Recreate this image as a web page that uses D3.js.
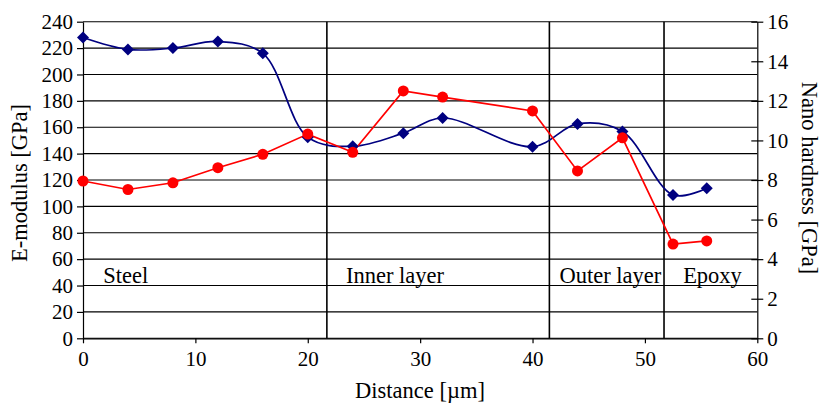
<!DOCTYPE html>
<html><head><meta charset="utf-8">
<script src="https://cdn.jsdelivr.net/npm/d3@7"></script>
<style>body{margin:0;background:#fff}svg{display:block}text{font-family:"Liberation Serif","Times New Roman",serif;fill:#000}</style>
</head><body>
<script>
const distance = [0, 4, 8, 12, 16, 20, 24, 28.5, 32, 40, 44, 48, 52.5, 55.5];
const eModulus = [228, 219, 220, 225, 216, 152.5, 145.5, 155.5, 167, 145.3, 162.5, 156.8, 108.6, 113.8];
const hardness = [7.95, 7.52, 7.86, 8.62, 9.3, 10.32, 9.4, 12.5, 12.19, 11.49, 8.46, 10.13, 4.76, 4.92];
const leftTicks = [0,20,40,60,80,100,120,140,160,180,200,220,240];
const rightTicks = [0,2,4,6,8,10,12,14,16];
const xTicks = [0,10,20,30,40,50,60];
const boundaries = [21.7, 41.5, 51.7];
const regions = [{label:"Steel", x:1.8},{label:"Inner layer", x:23.4},{label:"Outer layer", x:42.4},{label:"Epoxy", x:53.4}];

const W = 821, H = 404;
const svg = d3.select("body").append("svg").attr("width", W).attr("height", H);
const x = d3.scaleLinear().domain([0,60]).range([83, 757.3]);
const yL = d3.scaleLinear().domain([0,240]).range([338.3, 21.7]);
const yR = d3.scaleLinear().domain([0,16]).range([338.3, 21.7]);

svg.append("g").selectAll("line").data(leftTicks).join("line")
  .attr("x1", x(0)).attr("x2", x(60)).attr("y1", d=>yL(d)).attr("y2", d=>yL(d))
  .attr("stroke", "#000").attr("stroke-width", 1.1);
svg.append("g").selectAll("line").data(boundaries).join("line")
  .attr("x1", d=>x(d)).attr("x2", d=>x(d)).attr("y1", yL(240)).attr("y2", yL(0))
  .attr("stroke", "#000").attr("stroke-width", 1.6);

const fs = "21px";
const gL = svg.append("g").attr("transform", `translate(${x(0)},0)`)
  .call(d3.axisLeft(yL).tickValues(leftTicks).tickSize(6).tickPadding(4).tickSizeOuter(0));
const gR = svg.append("g").attr("transform", `translate(${x(60)},0)`)
  .call(d3.axisRight(yR).tickValues(rightTicks).tickSize(6).tickPadding(4).tickSizeOuter(0));
gR.selectAll(".tick line").attr("x1", -6);
const gX = svg.append("g").attr("transform", `translate(0,${yL(0)})`)
  .call(d3.axisBottom(x).tickValues(xTicks).tickSize(5).tickPadding(8).tickSizeOuter(0));
[gL,gR,gX].forEach(g=>{
  g.attr("font-family", '"Liberation Serif",serif');
  g.selectAll("text").attr("font-size", fs).attr("fill","#000");
  g.selectAll("line,path").attr("stroke","#000").attr("stroke-width",1.2);
});

svg.append("g").selectAll("text").data(regions).join("text")
  .attr("x", d=>x(d.x)).attr("y", 283).attr("font-size","22.5px").text(d=>d.label);

svg.append("text").attr("x", 420).attr("y", 398).attr("text-anchor","middle").attr("font-size","22.5px").text("Distance [µm]");
svg.append("text").attr("transform","translate(27,183) rotate(-90)").attr("text-anchor","middle").attr("font-size","22.5px").text("E-modulus [GPa]");
svg.append("text").attr("transform","translate(802,178) rotate(90)").attr("text-anchor","middle").attr("font-size","22.5px").text("Nano hardness [GPa]");

const blue = "#000080", red = "#ff0000";
const blueData = distance.map((d,i)=>[d, eModulus[i]]);
const redData = distance.map((d,i)=>[d, hardness[i]]);
svg.append("path").datum(blueData)
  .attr("d", d3.line().x(d=>x(d[0])).y(d=>yL(d[1])).curve(d3.curveCatmullRom.alpha(0.5)))
  .attr("fill","none").attr("stroke", blue).attr("stroke-width", 1.7);
svg.append("path").datum(redData)
  .attr("d", d3.line().x(d=>x(d[0])).y(d=>yR(d[1])))
  .attr("fill","none").attr("stroke", red).attr("stroke-width", 1.7);
svg.append("g").selectAll("path").data(blueData).join("path")
  .attr("transform", d=>`translate(${x(d[0])},${yL(d[1])})`)
  .attr("d", "M0,-6L6,0L0,6L-6,0Z").attr("fill", blue);
svg.append("g").selectAll("circle").data(redData).join("circle")
  .attr("cx", d=>x(d[0])).attr("cy", d=>yR(d[1])).attr("r", 5.5).attr("fill", red);
</script>
</body></html>
